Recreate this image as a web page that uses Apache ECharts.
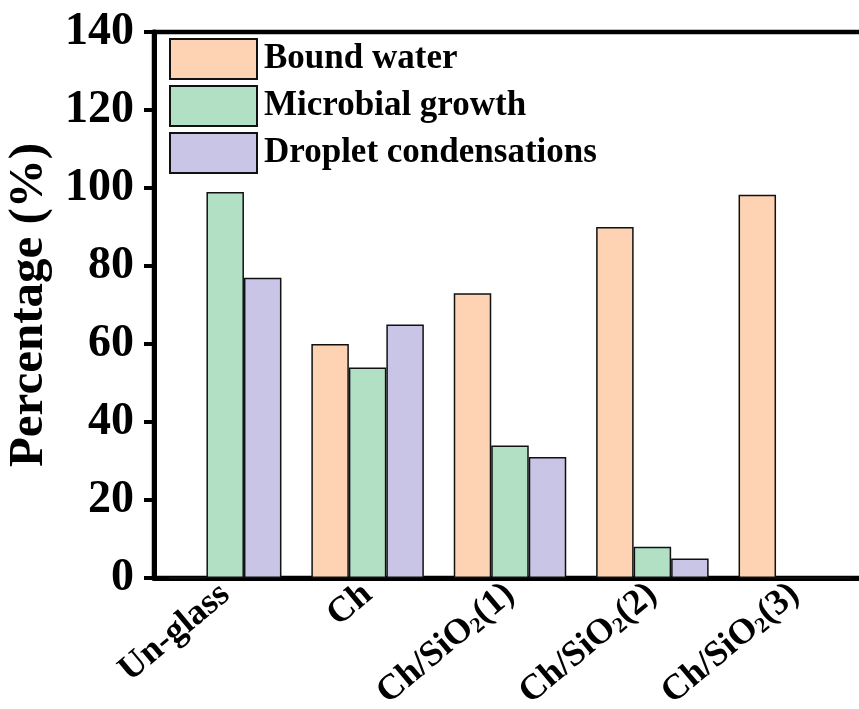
<!DOCTYPE html>
<html>
<head>
<meta charset="utf-8">
<title>Percentage by coating</title>
<script src="https://cdn.jsdelivr.net/npm/echarts@6/dist/echarts.min.js"></script>
<style>
  html, body { margin: 0; padding: 0; background: #fff; }
  #chart { width: 859px; height: 709px; }
</style>
</head>
<body>
<div id="chart"></div>
<script>
// Sample groups along the x axis
const categories = ['Un-glass', 'Ch', 'Ch/SiO2(1)', 'Ch/SiO2(2)', 'Ch/SiO2(3)'];

// Series values (%)
const boundWater = [0, 60, 73, 90, 98.3];
const microbialGrowth = [99, 54, 34, 8, 0];
const dropletCondensations = [77, 65, 31, 5, 0];

// Y axis ticks
const yMin = 0;
const yMax = 140;
const yStep = 20;

const seriesNames = ['Bound water', 'Microbial growth', 'Droplet condensations'];
const seriesColors = ['#FDD3B3', '#B2E0C5', '#C9C5E6'];

const serif = '"Liberation Serif", "Times New Roman", serif';

const chart = echarts.init(document.getElementById('chart'), null, { renderer: 'canvas' });

function barSeries(name, data, color) {
  return {
    name: name,
    type: 'bar',
    data: data,
    barWidth: 37.5,
    barGap: '0%',
    itemStyle: { color: color, borderColor: '#111', borderWidth: 1.5 }
  };
}

chart.setOption({
  animation: false,
  backgroundColor: '#fff',
  // plot frame runs past the right edge of the canvas, so only the top edge shows
  grid: {
    left: 154, width: 712, top: 32, height: 546,
    outerBoundsMode: 'none',
    containLabel: false,
    show: true, borderColor: '#000', borderWidth: 4.5, backgroundColor: 'transparent'
  },
  legend: {
    orient: 'vertical',
    left: 169, top: 38, padding: 0,
    itemWidth: 87, itemHeight: 40, itemGap: 5,
    icon: 'rect',
    data: seriesNames,
    textStyle: { fontFamily: serif, fontWeight: 'bold', fontSize: 35, color: '#000', padding: [0, 0, 0, 2] }
  },
  xAxis: {
    type: 'category',
    data: categories,
    axisLine: { lineStyle: { color: '#000', width: 5 } },
    axisTick: { alignWithLabel: true, length: 7, lineStyle: { color: '#000', width: 4 } },
    axisLabel: {
      rotate: 40,
      margin: 12,
      interval: 0,
      color: '#000',
      fontFamily: serif,
      fontWeight: 'bold',
      fontSize: 36,
      formatter: function (v) { return v.replace('SiO2', 'SiO{sub|2}'); },
      rich: {
        sub: { fontFamily: serif, fontWeight: 'bold', fontSize: 22, color: '#000', verticalAlign: 'bottom', padding: [12, 0, 0, 0] }
      }
    }
  },
  yAxis: {
    type: 'value',
    min: yMin, max: yMax, interval: yStep,
    name: 'Percentage (%)',
    nameLocation: 'middle',
    nameGap: 96,
    nameTextStyle: { fontFamily: serif, fontWeight: 'bold', fontSize: 49, color: '#000' },
    axisLine: { show: true, lineStyle: { color: '#000', width: 5 } },
    axisTick: { show: true, length: 10, lineStyle: { color: '#000', width: 4 } },
    splitLine: { show: false },
    axisLabel: { margin: 20, color: '#000', fontFamily: serif, fontWeight: 'bold', fontSize: 46 }
  },
  series: [
    barSeries(seriesNames[0], boundWater, seriesColors[0]),
    barSeries(seriesNames[1], microbialGrowth, seriesColors[1]),
    barSeries(seriesNames[2], dropletCondensations, seriesColors[2])
  ]
});
</script>
</body>
</html>
